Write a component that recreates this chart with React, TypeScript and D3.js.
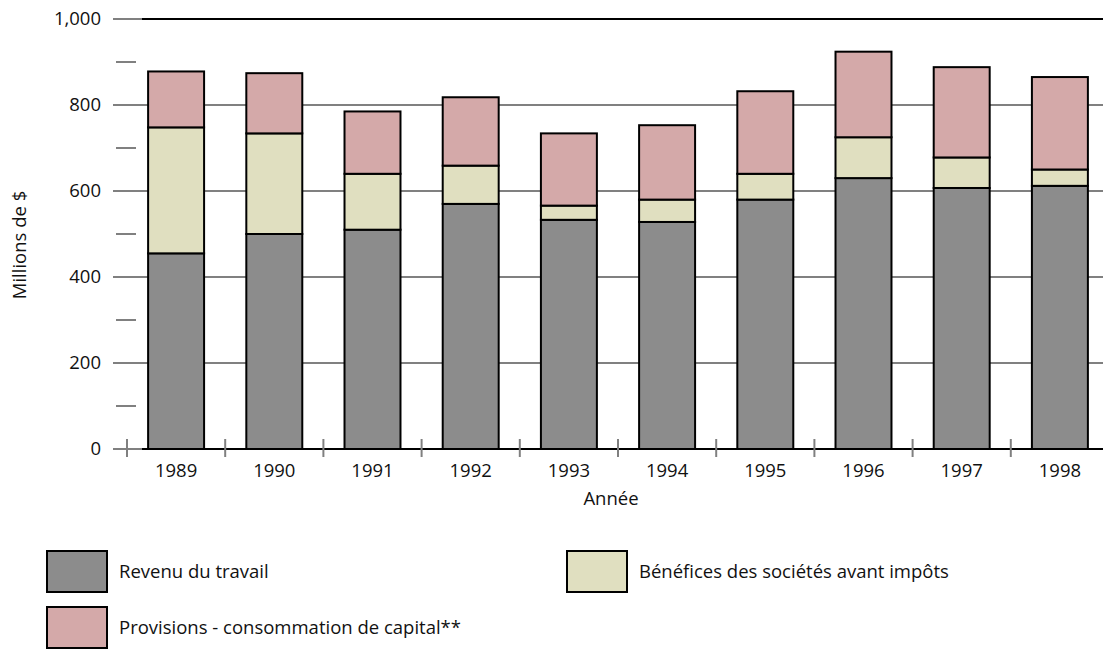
import React from "react";
import * as d3 from "d3";

const years = ["1989", "1990", "1991", "1992", "1993", "1994", "1995", "1996", "1997", "1998"];
const revenuTravail = [455, 500, 510, 570, 533, 528, 580, 630, 607, 612];
const benefices = [293, 234, 130, 89, 33, 52, 60, 95, 71, 38];
const provisions = [130, 140, 145, 159, 168, 173, 192, 199, 210, 215];
const majorTicks = [0, 200, 400, 600, 800, 1000];
const minorTicks = [100, 300, 500, 700, 900];
const seriesNames = ["Revenu du travail", "Bénéfices des sociétés avant impôts", "Provisions - consommation de capital**"];

const COLORS = ["#8c8c8c", "#e0dfc0", "#d4a9a9"];
const FONT = "'Open Sans', sans-serif";
const FS = 18.5;

export default function App() {
  const W = 1103, H = 650;
  const x = d3.scaleBand<string>().domain(years).range([127, 1109]).paddingInner(0.43).paddingOuter(0.215);
  const y = d3.scaleLinear().domain([0, 1000]).range([449, 19]);

  const rows = years.map((yr, i) => ({ year: yr, r: revenuTravail[i], b: benefices[i], p: provisions[i] }));
  const stack = d3.stack<any>().keys(["r", "b", "p"])(rows);

  const step = x.step();
  const tickXs = years.map((yr) => (x(yr) as number) - (step - x.bandwidth()) / 2);

  return (
    <svg width={W} height={H} style={{ position: "absolute", left: 0, top: 0 }} fontFamily={FONT}>
      {majorTicks.map((t) => (
        <g key={t}>
          {t === 0 || t === 1000 ? (
            <>
              <line x1={113} x2={142} y1={y(t)} y2={y(t)} stroke="#808080" strokeWidth={2} />
              <line x1={142} x2={1103} y1={y(t)} y2={y(t)} stroke="#000" strokeWidth={2} />
            </>
          ) : (
            <line x1={113} x2={1103} y1={y(t)} y2={y(t)} stroke="#808080" strokeWidth={2} />
          )}
          <text x={101} y={y(t)} dy="0.35em" textAnchor="end" fontSize={FS} fill="#111">
            {d3.format(",")(t)}
          </text>
        </g>
      ))}
      {minorTicks.map((t) => (
        <line key={t} x1={116} x2={136} y1={y(t)} y2={y(t)} stroke="#808080" strokeWidth={2} />
      ))}
      {tickXs.map((tx, i) => (
        <line key={i} x1={tx} x2={tx} y1={439} y2={457} stroke="#808080" strokeWidth={2} />
      ))}
      {stack.map((s, si) =>
        s.map((d, i) => (
          <rect
            key={si + "-" + i}
            x={x(years[i]) as number}
            y={y(d[1])}
            width={x.bandwidth()}
            height={y(d[0]) - y(d[1])}
            fill={COLORS[si]}
            stroke="#000"
            strokeWidth={2}
          />
        ))
      )}
      {years.map((yr) => (
        <text key={yr} x={(x(yr) as number) + x.bandwidth() / 2} y={471} dy="0.35em" textAnchor="middle" fontSize={FS} fill="#111">
          {yr}
        </text>
      ))}
      <text x={611} y={499} dy="0.35em" textAnchor="middle" fontSize={FS} fill="#111">Année</text>
      <text transform="translate(20,245) rotate(-90)" textAnchor="middle" dy="0.35em" fontSize={FS} fill="#111">
        Millions de $
      </text>
      {[
        { i: 0, lx: 47, ly: 551 },
        { i: 1, lx: 567, ly: 551 },
        { i: 2, lx: 47, ly: 607 },
      ].map(({ i, lx, ly }) => (
        <g key={i}>
          <rect x={lx} y={ly} width={60} height={41} fill={COLORS[i]} stroke="#000" strokeWidth={2} />
          <text x={lx + 72} y={ly + 21} dy="0.35em" fontSize={FS} fill="#111">{seriesNames[i]}</text>
        </g>
      ))}
    </svg>
  );
}
